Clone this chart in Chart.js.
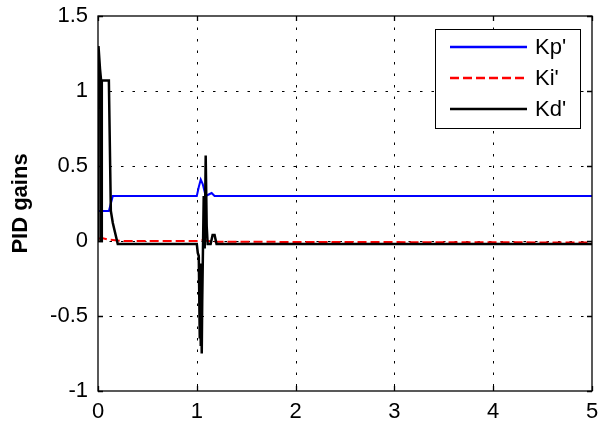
<!DOCTYPE html>
<html>
<head>
<meta charset="utf-8">
<script src="https://cdn.jsdelivr.net/npm/chart.js@4.4.1/dist/chart.umd.min.js"></script>
<style>
  html, body { margin: 0; padding: 0; background: #fff; }
</style>
</head>
<body>
<canvas id="gainChart" width="598" height="425"></canvas>
<script>
// values
const kpX = [0, 0.11, 0.15, 1.0, 1.02, 1.04, 1.06, 1.09, 1.12, 1.15, 1.18, 5];
const kpY = [0.2, 0.2, 0.3, 0.3, 0.36, 0.41, 0.38, 0.3, 0.31, 0.32, 0.3, 0.3];

const kiX = [0, 0.04, 0.1, 0.25, 1.0, 1.05, 1.2, 5];
const kiY = [0.015, 0.02, 0.01, 0.0, 0.0, 0.005, -0.005, -0.01];

const kdX = [0, 0.005, 0.02, 0.03, 0.033, 0.037, 0.04, 0.11, 0.13, 0.15, 0.2, 1.0, 1.01, 1.02, 1.03, 1.035, 1.04, 1.045, 1.05, 1.055, 1.07, 1.08, 1.09, 1.1, 1.11, 1.14, 1.16, 1.18, 1.2, 5];
const kdY = [0, 1.3, 1.15, 1.08, 0.0, 0.0, 1.07, 1.07, 0.2, 0.12, -0.02, -0.02, -0.08, -0.1, -0.65, -0.15, -0.7, -0.25, -0.75, -0.4, 0.3, -0.05, 0.57, 0.1, -0.02, -0.02, 0.04, 0.04, -0.02, -0.02];

const xTicks = [0, 1, 2, 3, 4, 5];
const yTicks = [-1, -0.5, 0, 0.5, 1, 1.5];
const seriesNames = ["Kp'", "Ki'", "Kd'"];

function pts(xs, ys) {
  return xs.map((x, i) => ({ x: x, y: ys[i] }));
}

// matlab style box, dotted grid, inward ticks
const frame = {
  id: 'frame',
  beforeDatasetsDraw(chart) {
    const { ctx, chartArea: a, scales } = chart;
    ctx.save();
    ctx.strokeStyle = '#000';
    ctx.lineWidth = 1;
    ctx.setLineDash([2.5, 9]);
    xTicks.slice(1, -1).forEach(v => {
      const px = Math.round(scales.x.getPixelForValue(v)) + 0.5;
      ctx.beginPath(); ctx.moveTo(px, a.top); ctx.lineTo(px, a.bottom); ctx.stroke();
    });
    yTicks.slice(1, -1).forEach(v => {
      const py = Math.round(scales.y.getPixelForValue(v)) + 0.5;
      ctx.beginPath(); ctx.moveTo(a.left, py); ctx.lineTo(a.right, py); ctx.stroke();
    });
    ctx.restore();
  },
  afterDatasetsDraw(chart) {
    const { ctx, chartArea: a, scales } = chart;
    ctx.save();
    ctx.strokeStyle = '#000';
    ctx.lineWidth = 1.3;
    ctx.setLineDash([]);
    ctx.strokeRect(a.left, a.top, a.right - a.left, a.bottom - a.top);
    const tl = 5;
    ctx.beginPath();
    xTicks.forEach(v => {
      const px = Math.round(scales.x.getPixelForValue(v)) + 0.5;
      ctx.moveTo(px, a.bottom); ctx.lineTo(px, a.bottom - tl);
      ctx.moveTo(px, a.top); ctx.lineTo(px, a.top + tl);
    });
    yTicks.forEach(v => {
      const py = Math.round(scales.y.getPixelForValue(v)) + 0.5;
      ctx.moveTo(a.left, py); ctx.lineTo(a.left + tl, py);
      ctx.moveTo(a.right, py); ctx.lineTo(a.right - tl, py);
    });
    ctx.stroke();
    ctx.restore();
  },
  afterDraw(chart) {
    // legend box, top right inside the axes
    const { ctx } = chart;
    const ds = chart.data.datasets;
    const bx = 435, by = 29, bw = 145, bh = 99;
    ctx.save();
    ctx.fillStyle = '#fff';
    ctx.fillRect(bx, by, bw, bh);
    ctx.strokeStyle = '#000';
    ctx.lineWidth = 1;
    ctx.strokeRect(bx + 0.5, by + 0.5, bw, bh);
    ctx.font = '22px "Liberation Sans", Arial, sans-serif';
    ctx.textBaseline = 'middle';
    [0, 1, 2].forEach(i => {
      const ly = by + 18 + i * 31;
      ctx.strokeStyle = ds[i].borderColor;
      ctx.lineWidth = 2.5;
      ctx.setLineDash(ds[i].borderDash || []);
      ctx.beginPath(); ctx.moveTo(450, ly); ctx.lineTo(527, ly); ctx.stroke();
      ctx.fillStyle = '#000';
      ctx.fillText(ds[i].label, 535, ly + 1);
    });
    ctx.restore();
  }
};

new Chart(document.getElementById('gainChart'), {
  type: 'scatter',
  data: {
    datasets: [
      { label: seriesNames[0], data: pts(kpX, kpY), borderColor: '#0000ff', borderWidth: 2, order: 2 },
      { label: seriesNames[1], data: pts(kiX, kiY), borderColor: '#ff0000', borderWidth: 2, borderDash: [9, 4], order: 1 },
      { label: seriesNames[2], data: pts(kdX, kdY), borderColor: '#000000', borderWidth: 2.5, order: 0 }
    ]
  },
  options: {
    responsive: false,
    animation: false,
    showLine: true,
    elements: { point: { radius: 0 }, line: { tension: 0 } },
    layout: { padding: { top: 16, right: 6, left: 0, bottom: 0 } },
    plugins: { legend: { display: false }, tooltip: { enabled: false } },
    scales: {
      x: {
        type: 'linear', min: 0, max: 5,
        grid: { display: false, drawTicks: false },
        border: { display: false },
        afterBuildTicks: s => { s.ticks = xTicks.map(v => ({ value: v })); },
        afterFit: s => { s.height = 34; s.paddingLeft = 0; s.paddingRight = 0; },
        ticks: { color: '#000', padding: 8, maxRotation: 0, font: { size: 22, family: '"Liberation Sans", Arial, sans-serif' } }
      },
      y: {
        type: 'linear', min: -1, max: 1.5,
        grid: { display: false, drawTicks: false },
        border: { display: false },
        afterBuildTicks: s => { s.ticks = yTicks.map(v => ({ value: v })); },
        afterFit: s => { s.width = 98; s.paddingTop = 0; s.paddingBottom = 0; },
        ticks: {
          color: '#000', padding: 10,
          callback: v => String(v),
          font: { size: 22, family: '"Liberation Sans", Arial, sans-serif' }
        },
        title: {
          display: true, text: 'PID gains', color: '#000',
          padding: { top: 8, bottom: 0 },
          font: { size: 22, weight: 'bold', family: '"Liberation Sans", Arial, sans-serif' }
        }
      }
    }
  },
  plugins: [frame]
});
</script>
</body>
</html>
